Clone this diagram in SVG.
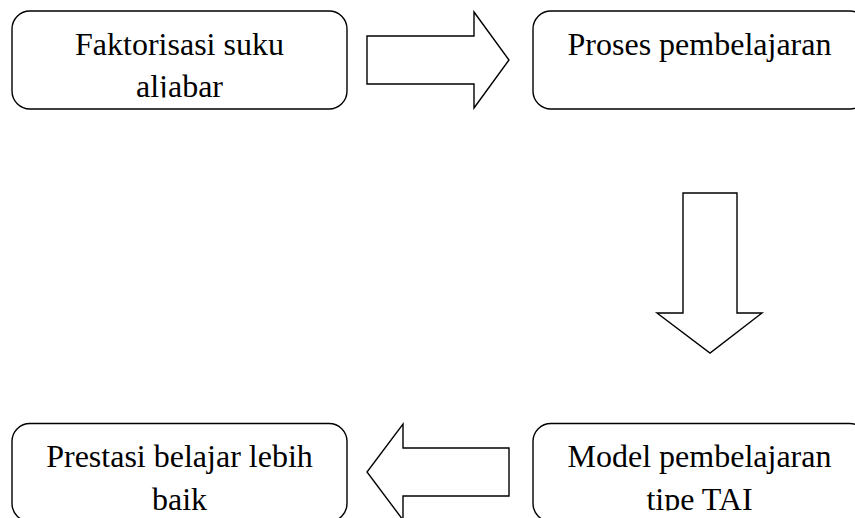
<svg xmlns="http://www.w3.org/2000/svg" width="855" height="518" viewBox="0 0 855 518">
  <style>
    .box { fill: #ffffff; stroke: #000000; stroke-width: 1.4; }
    .arrow { fill: #ffffff; stroke: #000000; stroke-width: 1.4; stroke-linejoin: miter; }
    .label { font-family: "Liberation Serif", "Times New Roman", serif; font-size: 32px; fill: #000000; text-anchor: middle; }
  </style>
  <defs>
    <clipPath id="clip-top-left"><rect x="12" y="11" width="335" height="86.5"/></clipPath>
    <clipPath id="clip-top-right"><rect x="533" y="11" width="335" height="86.5"/></clipPath>
    <clipPath id="clip-bot-left"><rect x="12" y="423.5" width="335" height="87"/></clipPath>
    <clipPath id="clip-bot-right"><rect x="533" y="423.5" width="335" height="87"/></clipPath>
  </defs>
  <rect x="0" y="0" width="855" height="518" fill="#ffffff"/>

  <g id="node-faktorisasi">
    <rect class="box" x="12" y="11" width="335" height="98" rx="18" ry="18"/>
    <g clip-path="url(#clip-top-left)">
      <text class="label" x="179.5" y="55">Faktorisasi suku</text>
      <text class="label" x="179.5" y="97">aljabar</text>
    </g>
  </g>

  <g id="node-proses">
    <rect class="box" x="533" y="11" width="335" height="98" rx="18" ry="18"/>
    <g clip-path="url(#clip-top-right)">
      <text class="label" x="699.5" y="55">Proses pembelajaran</text>
    </g>
  </g>

  <g id="node-model">
    <rect class="box" x="533" y="423.5" width="335" height="98" rx="18" ry="18"/>
    <g clip-path="url(#clip-bot-right)">
      <text class="label" x="699.5" y="467">Model pembelajaran</text>
      <text class="label" x="699.5" y="510">tipe TAI</text>
    </g>
  </g>

  <g id="node-prestasi">
    <rect class="box" x="12" y="423.5" width="335" height="98" rx="18" ry="18"/>
    <g clip-path="url(#clip-bot-left)">
      <text class="label" x="179.5" y="467">Prestasi belajar lebih</text>
      <text class="label" x="179.5" y="510">baik</text>
    </g>
  </g>

  <g id="connectors">
    <polygon class="arrow" points="367,36 474,36 474,12 509,60 474,108 474,84 367,84"/>
    <polygon class="arrow" points="683,193 737,193 737,313 762,313 710,353 657,313 683,313"/>
    <polygon class="arrow" points="509,448 403,448 403,424 367,472 403,520 403,496 509,496"/>
  </g>
</svg>
